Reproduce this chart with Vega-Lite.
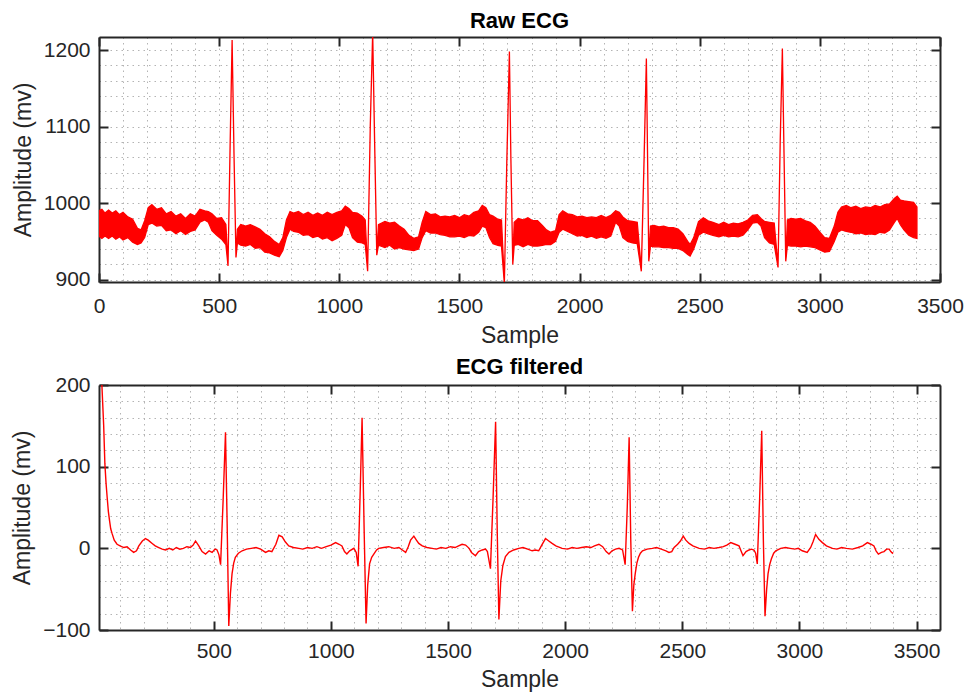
{
  "$schema": "https://vega.github.io/schema/vega-lite/v6.json",
  "background": "white",
  "padding": {"left": 11, "top": 10, "right": 5, "bottom": 5},
  "config": {
    "font": "Liberation Sans",
    "view": {"stroke": null},
    "axis": {
      "labelFont": "Liberation Sans",
      "titleFont": "Liberation Sans",
      "labelFontSize": 21,
      "titleFontSize": 23,
      "titleFontWeight": "normal",
      "labelColor": "#262626",
      "titleColor": "#262626",
      "domainColor": "#262626",
      "domainWidth": 2,
      "titlePadding": 8,
      "labelOverlap": false,
      "labelFlush": false,
      "labelBound": false,
      "gridColor": "#b4b4b4",
      "gridDash": [1.5, 4],
      "gridWidth": 1
    },
    "title": {"font": "Liberation Sans", "fontSize": 22, "fontWeight": "bold", "color": "#000000", "offset": 0}
  },
  "datasets": {
    "raw": [
      {"sample": 0, "lo": 957, "hi": 990}, {"sample": 12, "lo": 954, "hi": 992}, {"sample": 25, "lo": 957, "hi": 987}, {"sample": 40, "lo": 954, "hi": 991},
      {"sample": 55, "lo": 957, "hi": 987}, {"sample": 70, "lo": 953, "hi": 990}, {"sample": 85, "lo": 956, "hi": 985}, {"sample": 100, "lo": 952, "hi": 988},
      {"sample": 120, "lo": 955, "hi": 982}, {"sample": 140, "lo": 949, "hi": 979}, {"sample": 160, "lo": 946, "hi": 967},
      {"sample": 175, "lo": 948, "hi": 965}, {"sample": 190, "lo": 955, "hi": 977}, {"sample": 205, "lo": 972, "hi": 994},
      {"sample": 220, "lo": 974, "hi": 998}, {"sample": 240, "lo": 970, "hi": 992}, {"sample": 260, "lo": 971, "hi": 994},
      {"sample": 280, "lo": 964, "hi": 986}, {"sample": 300, "lo": 965, "hi": 989}, {"sample": 320, "lo": 960, "hi": 983},
      {"sample": 340, "lo": 964, "hi": 986}, {"sample": 360, "lo": 959, "hi": 980}, {"sample": 380, "lo": 963, "hi": 986},
      {"sample": 400, "lo": 965, "hi": 983}, {"sample": 420, "lo": 975, "hi": 992}, {"sample": 440, "lo": 978, "hi": 990},
      {"sample": 455, "lo": 975, "hi": 989}, {"sample": 470, "lo": 964, "hi": 986}, {"sample": 490, "lo": 958, "hi": 980},
      {"sample": 510, "lo": 953, "hi": 981}, {"sample": 528, "lo": 946, "hi": 972},
      {"sample": 537, "lo": 918, "hi": 920}, {"sample": 546, "lo": 1080, "hi": 1082}, {"sample": 554, "lo": 1212, "hi": 1213},
      {"sample": 562, "lo": 1060, "hi": 1062}, {"sample": 570, "lo": 929, "hi": 931}, {"sample": 576, "lo": 948, "hi": 966},
      {"sample": 590, "lo": 945, "hi": 972}, {"sample": 610, "lo": 944, "hi": 970}, {"sample": 630, "lo": 946, "hi": 972},
      {"sample": 650, "lo": 941, "hi": 969}, {"sample": 670, "lo": 942, "hi": 966}, {"sample": 690, "lo": 936, "hi": 960},
      {"sample": 710, "lo": 935, "hi": 956}, {"sample": 730, "lo": 932, "hi": 950}, {"sample": 750, "lo": 930, "hi": 946},
      {"sample": 765, "lo": 938, "hi": 955}, {"sample": 780, "lo": 955, "hi": 978}, {"sample": 795, "lo": 966, "hi": 989},
      {"sample": 810, "lo": 963, "hi": 987}, {"sample": 830, "lo": 962, "hi": 989}, {"sample": 850, "lo": 958, "hi": 985},
      {"sample": 870, "lo": 959, "hi": 988}, {"sample": 890, "lo": 955, "hi": 984}, {"sample": 910, "lo": 957, "hi": 987},
      {"sample": 930, "lo": 953, "hi": 984}, {"sample": 950, "lo": 955, "hi": 988}, {"sample": 970, "lo": 951, "hi": 985},
      {"sample": 990, "lo": 954, "hi": 988}, {"sample": 1010, "lo": 958, "hi": 990}, {"sample": 1025, "lo": 972, "hi": 996},
      {"sample": 1040, "lo": 968, "hi": 993}, {"sample": 1055, "lo": 955, "hi": 988}, {"sample": 1075, "lo": 949, "hi": 987},
      {"sample": 1095, "lo": 948, "hi": 983}, {"sample": 1108, "lo": 946, "hi": 978},
      {"sample": 1118, "lo": 911, "hi": 913}, {"sample": 1129, "lo": 1100, "hi": 1102}, {"sample": 1139, "lo": 1222, "hi": 1223},
      {"sample": 1147, "lo": 1080, "hi": 1082}, {"sample": 1156, "lo": 932, "hi": 934}, {"sample": 1163, "lo": 945, "hi": 972},
      {"sample": 1190, "lo": 942, "hi": 976}, {"sample": 1210, "lo": 945, "hi": 974}, {"sample": 1230, "lo": 940, "hi": 975},
      {"sample": 1250, "lo": 942, "hi": 970}, {"sample": 1270, "lo": 940, "hi": 966}, {"sample": 1290, "lo": 939, "hi": 958},
      {"sample": 1310, "lo": 938, "hi": 954}, {"sample": 1330, "lo": 940, "hi": 956}, {"sample": 1345, "lo": 955, "hi": 975},
      {"sample": 1360, "lo": 964, "hi": 989}, {"sample": 1380, "lo": 961, "hi": 985}, {"sample": 1400, "lo": 961, "hi": 986},
      {"sample": 1420, "lo": 959, "hi": 982}, {"sample": 1440, "lo": 958, "hi": 983}, {"sample": 1460, "lo": 956, "hi": 982},
      {"sample": 1480, "lo": 956, "hi": 984}, {"sample": 1500, "lo": 957, "hi": 981}, {"sample": 1520, "lo": 955, "hi": 985},
      {"sample": 1540, "lo": 958, "hi": 983}, {"sample": 1560, "lo": 957, "hi": 988}, {"sample": 1580, "lo": 962, "hi": 990},
      {"sample": 1595, "lo": 970, "hi": 997}, {"sample": 1610, "lo": 968, "hi": 994}, {"sample": 1625, "lo": 955, "hi": 985},
      {"sample": 1640, "lo": 947, "hi": 983}, {"sample": 1660, "lo": 945, "hi": 979}, {"sample": 1675, "lo": 944, "hi": 978},
      {"sample": 1687, "lo": 895, "hi": 897}, {"sample": 1697, "lo": 1050, "hi": 1052}, {"sample": 1708, "lo": 1197, "hi": 1198},
      {"sample": 1714, "lo": 1060, "hi": 1062}, {"sample": 1722, "lo": 920, "hi": 922}, {"sample": 1728, "lo": 945, "hi": 975},
      {"sample": 1745, "lo": 946, "hi": 980}, {"sample": 1765, "lo": 943, "hi": 978}, {"sample": 1785, "lo": 946, "hi": 981},
      {"sample": 1805, "lo": 944, "hi": 977}, {"sample": 1825, "lo": 944, "hi": 977}, {"sample": 1845, "lo": 945, "hi": 971},
      {"sample": 1862, "lo": 946, "hi": 965}, {"sample": 1880, "lo": 946, "hi": 962}, {"sample": 1900, "lo": 950, "hi": 964},
      {"sample": 1915, "lo": 962, "hi": 985}, {"sample": 1930, "lo": 966, "hi": 990}, {"sample": 1950, "lo": 963, "hi": 986},
      {"sample": 1970, "lo": 960, "hi": 985}, {"sample": 1990, "lo": 957, "hi": 982}, {"sample": 2010, "lo": 958, "hi": 983},
      {"sample": 2030, "lo": 955, "hi": 981}, {"sample": 2050, "lo": 957, "hi": 982}, {"sample": 2070, "lo": 954, "hi": 981},
      {"sample": 2090, "lo": 956, "hi": 984}, {"sample": 2110, "lo": 954, "hi": 981}, {"sample": 2130, "lo": 957, "hi": 984},
      {"sample": 2150, "lo": 975, "hi": 990}, {"sample": 2165, "lo": 970, "hi": 988}, {"sample": 2180, "lo": 955, "hi": 982},
      {"sample": 2200, "lo": 950, "hi": 977}, {"sample": 2220, "lo": 948, "hi": 976}, {"sample": 2240, "lo": 947, "hi": 975},
      {"sample": 2257, "lo": 911, "hi": 913}, {"sample": 2268, "lo": 1050, "hi": 1052}, {"sample": 2278, "lo": 1188, "hi": 1189},
      {"sample": 2283, "lo": 1060, "hi": 1062}, {"sample": 2288, "lo": 924, "hi": 926}, {"sample": 2295, "lo": 944, "hi": 970},
      {"sample": 2310, "lo": 943, "hi": 971}, {"sample": 2330, "lo": 943, "hi": 969}, {"sample": 2350, "lo": 942, "hi": 970},
      {"sample": 2370, "lo": 942, "hi": 968}, {"sample": 2390, "lo": 941, "hi": 968}, {"sample": 2410, "lo": 941, "hi": 966},
      {"sample": 2430, "lo": 938, "hi": 960}, {"sample": 2450, "lo": 933, "hi": 950}, {"sample": 2460, "lo": 931, "hi": 946},
      {"sample": 2475, "lo": 940, "hi": 955}, {"sample": 2495, "lo": 958, "hi": 976}, {"sample": 2515, "lo": 962, "hi": 981},
      {"sample": 2535, "lo": 960, "hi": 977}, {"sample": 2555, "lo": 958, "hi": 975}, {"sample": 2580, "lo": 956, "hi": 972},
      {"sample": 2600, "lo": 958, "hi": 975}, {"sample": 2620, "lo": 956, "hi": 972}, {"sample": 2640, "lo": 957, "hi": 974},
      {"sample": 2660, "lo": 956, "hi": 973}, {"sample": 2680, "lo": 958, "hi": 975}, {"sample": 2700, "lo": 965, "hi": 978},
      {"sample": 2720, "lo": 974, "hi": 984}, {"sample": 2740, "lo": 975, "hi": 985}, {"sample": 2755, "lo": 970, "hi": 980},
      {"sample": 2770, "lo": 955, "hi": 976}, {"sample": 2790, "lo": 948, "hi": 975}, {"sample": 2810, "lo": 946, "hi": 974},
      {"sample": 2826, "lo": 916, "hi": 918}, {"sample": 2835, "lo": 1080, "hi": 1082}, {"sample": 2844, "lo": 1201, "hi": 1202},
      {"sample": 2850, "lo": 1080, "hi": 1082}, {"sample": 2858, "lo": 924, "hi": 926}, {"sample": 2865, "lo": 945, "hi": 978},
      {"sample": 2880, "lo": 944, "hi": 980}, {"sample": 2900, "lo": 944, "hi": 979}, {"sample": 2920, "lo": 943, "hi": 980},
      {"sample": 2940, "lo": 944, "hi": 977}, {"sample": 2960, "lo": 943, "hi": 975}, {"sample": 2980, "lo": 942, "hi": 970},
      {"sample": 3000, "lo": 939, "hi": 962}, {"sample": 3020, "lo": 936, "hi": 955}, {"sample": 3040, "lo": 937, "hi": 954},
      {"sample": 3060, "lo": 950, "hi": 970}, {"sample": 3075, "lo": 962, "hi": 988}, {"sample": 3090, "lo": 965, "hi": 995},
      {"sample": 3110, "lo": 963, "hi": 997}, {"sample": 3130, "lo": 962, "hi": 994}, {"sample": 3150, "lo": 960, "hi": 996},
      {"sample": 3170, "lo": 961, "hi": 993}, {"sample": 3190, "lo": 959, "hi": 995}, {"sample": 3210, "lo": 960, "hi": 994},
      {"sample": 3230, "lo": 959, "hi": 997}, {"sample": 3250, "lo": 962, "hi": 995}, {"sample": 3270, "lo": 961, "hi": 998},
      {"sample": 3290, "lo": 965, "hi": 999}, {"sample": 3310, "lo": 975, "hi": 1006}, {"sample": 3322, "lo": 980, "hi": 1009},
      {"sample": 3335, "lo": 972, "hi": 1004}, {"sample": 3350, "lo": 965, "hi": 1003}, {"sample": 3370, "lo": 958, "hi": 1002},
      {"sample": 3390, "lo": 955, "hi": 1001}, {"sample": 3404, "lo": 954, "hi": 995}
    ],
    "filtered": [
      {"sample": 20, "value": 215}, {"sample": 30, "value": 150}, {"sample": 35, "value": 104}, {"sample": 40, "value": 80},
      {"sample": 45, "value": 62}, {"sample": 50, "value": 45}, {"sample": 55, "value": 34}, {"sample": 60, "value": 24},
      {"sample": 66, "value": 18}, {"sample": 75, "value": 10}, {"sample": 87, "value": 5}, {"sample": 100, "value": 3},
      {"sample": 116, "value": 1}, {"sample": 130, "value": 2}, {"sample": 145, "value": -2}, {"sample": 158, "value": -5},
      {"sample": 170, "value": -3}, {"sample": 180, "value": 3}, {"sample": 195, "value": 9}, {"sample": 208, "value": 12},
      {"sample": 220, "value": 10}, {"sample": 237, "value": 6}, {"sample": 250, "value": 3}, {"sample": 265, "value": 1},
      {"sample": 280, "value": -1}, {"sample": 294, "value": -2}, {"sample": 310, "value": 0}, {"sample": 325, "value": -2},
      {"sample": 340, "value": 1}, {"sample": 355, "value": -1}, {"sample": 370, "value": 0}, {"sample": 385, "value": 2},
      {"sample": 400, "value": 1}, {"sample": 412, "value": 4}, {"sample": 422, "value": 9}, {"sample": 436, "value": 3},
      {"sample": 450, "value": -4}, {"sample": 465, "value": -7}, {"sample": 480, "value": -3}, {"sample": 493, "value": -5},
      {"sample": 505, "value": -1}, {"sample": 514, "value": -2}, {"sample": 522, "value": -8}, {"sample": 529, "value": -20},
      {"sample": 540, "value": 60}, {"sample": 550, "value": 142}, {"sample": 557, "value": 30}, {"sample": 564, "value": -95},
      {"sample": 571, "value": -55}, {"sample": 578, "value": -31}, {"sample": 585, "value": -18}, {"sample": 592, "value": -11},
      {"sample": 605, "value": -6}, {"sample": 621, "value": -3}, {"sample": 640, "value": -1}, {"sample": 660, "value": 0},
      {"sample": 680, "value": 1}, {"sample": 700, "value": -1}, {"sample": 721, "value": -5}, {"sample": 735, "value": -3},
      {"sample": 748, "value": -4}, {"sample": 765, "value": 5}, {"sample": 778, "value": 16}, {"sample": 792, "value": 14},
      {"sample": 805, "value": 8}, {"sample": 820, "value": 3}, {"sample": 840, "value": 1}, {"sample": 863, "value": 0},
      {"sample": 880, "value": -1}, {"sample": 900, "value": 1}, {"sample": 920, "value": 0}, {"sample": 940, "value": 2},
      {"sample": 960, "value": 0}, {"sample": 980, "value": 2}, {"sample": 1000, "value": 4}, {"sample": 1020, "value": 7},
      {"sample": 1035, "value": 5}, {"sample": 1047, "value": 3}, {"sample": 1058, "value": -4}, {"sample": 1068, "value": -7},
      {"sample": 1080, "value": -3}, {"sample": 1098, "value": 0}, {"sample": 1108, "value": -5}, {"sample": 1116, "value": -22},
      {"sample": 1125, "value": 70}, {"sample": 1133, "value": 160}, {"sample": 1142, "value": 20}, {"sample": 1150, "value": -92},
      {"sample": 1157, "value": -45}, {"sample": 1165, "value": -19}, {"sample": 1174, "value": -11}, {"sample": 1183, "value": -7},
      {"sample": 1195, "value": -2}, {"sample": 1204, "value": 0}, {"sample": 1225, "value": 1}, {"sample": 1247, "value": 2},
      {"sample": 1270, "value": 0}, {"sample": 1290, "value": 1}, {"sample": 1305, "value": -2}, {"sample": 1319, "value": -5},
      {"sample": 1330, "value": 2}, {"sample": 1340, "value": 10}, {"sample": 1354, "value": 15}, {"sample": 1365, "value": 10},
      {"sample": 1375, "value": 6}, {"sample": 1390, "value": 3}, {"sample": 1410, "value": 1}, {"sample": 1432, "value": 0},
      {"sample": 1450, "value": -1}, {"sample": 1470, "value": 1}, {"sample": 1490, "value": 0}, {"sample": 1510, "value": 2},
      {"sample": 1530, "value": 1}, {"sample": 1545, "value": 3}, {"sample": 1560, "value": 5}, {"sample": 1575, "value": 4},
      {"sample": 1590, "value": 0}, {"sample": 1600, "value": -5}, {"sample": 1617, "value": -9}, {"sample": 1630, "value": -4},
      {"sample": 1646, "value": -2}, {"sample": 1660, "value": -1}, {"sample": 1668, "value": -4}, {"sample": 1681, "value": -25},
      {"sample": 1692, "value": 60}, {"sample": 1703, "value": 155}, {"sample": 1710, "value": 20}, {"sample": 1717, "value": -87},
      {"sample": 1725, "value": -40}, {"sample": 1734, "value": -21}, {"sample": 1745, "value": -10}, {"sample": 1760, "value": -5},
      {"sample": 1780, "value": -2}, {"sample": 1802, "value": 0}, {"sample": 1820, "value": 1}, {"sample": 1840, "value": -1},
      {"sample": 1859, "value": -3}, {"sample": 1872, "value": -2}, {"sample": 1887, "value": -3}, {"sample": 1900, "value": 4},
      {"sample": 1916, "value": 12}, {"sample": 1930, "value": 9}, {"sample": 1944, "value": 6}, {"sample": 1960, "value": 3},
      {"sample": 1987, "value": 0}, {"sample": 2010, "value": -1}, {"sample": 2030, "value": 1}, {"sample": 2050, "value": 0},
      {"sample": 2070, "value": 1}, {"sample": 2090, "value": 2}, {"sample": 2110, "value": 1}, {"sample": 2125, "value": 3},
      {"sample": 2144, "value": 5}, {"sample": 2160, "value": 2}, {"sample": 2175, "value": -4}, {"sample": 2187, "value": -7},
      {"sample": 2200, "value": -3}, {"sample": 2215, "value": -1}, {"sample": 2230, "value": 0}, {"sample": 2245, "value": -2},
      {"sample": 2256, "value": -20}, {"sample": 2265, "value": 50}, {"sample": 2273, "value": 136}, {"sample": 2280, "value": 10},
      {"sample": 2287, "value": -77}, {"sample": 2293, "value": -45}, {"sample": 2299, "value": -31}, {"sample": 2306, "value": -18},
      {"sample": 2313, "value": -11}, {"sample": 2321, "value": -6}, {"sample": 2330, "value": -3}, {"sample": 2350, "value": -1},
      {"sample": 2372, "value": 0}, {"sample": 2390, "value": 1}, {"sample": 2410, "value": -1}, {"sample": 2430, "value": -3},
      {"sample": 2443, "value": -5}, {"sample": 2455, "value": -4}, {"sample": 2465, "value": 1}, {"sample": 2480, "value": 5},
      {"sample": 2492, "value": 9}, {"sample": 2504, "value": 15}, {"sample": 2515, "value": 10}, {"sample": 2529, "value": 6},
      {"sample": 2545, "value": 3}, {"sample": 2572, "value": 0}, {"sample": 2595, "value": -1}, {"sample": 2615, "value": 1},
      {"sample": 2635, "value": 0}, {"sample": 2657, "value": 1}, {"sample": 2675, "value": 2}, {"sample": 2690, "value": 4},
      {"sample": 2707, "value": 7}, {"sample": 2725, "value": 5}, {"sample": 2742, "value": 3}, {"sample": 2759, "value": -9},
      {"sample": 2772, "value": -4}, {"sample": 2785, "value": -2}, {"sample": 2795, "value": -1}, {"sample": 2806, "value": -2},
      {"sample": 2813, "value": -6}, {"sample": 2820, "value": -19}, {"sample": 2830, "value": 60}, {"sample": 2839, "value": 144},
      {"sample": 2846, "value": 10}, {"sample": 2853, "value": -83}, {"sample": 2860, "value": -50}, {"sample": 2866, "value": -31},
      {"sample": 2873, "value": -20}, {"sample": 2880, "value": -13}, {"sample": 2890, "value": -6}, {"sample": 2899, "value": -3},
      {"sample": 2920, "value": 0}, {"sample": 2941, "value": 1}, {"sample": 2960, "value": 0}, {"sample": 2980, "value": -1},
      {"sample": 2995, "value": 0}, {"sample": 3012, "value": -3}, {"sample": 3033, "value": -5}, {"sample": 3048, "value": 1},
      {"sample": 3058, "value": 8}, {"sample": 3069, "value": 17}, {"sample": 3083, "value": 11}, {"sample": 3098, "value": 7},
      {"sample": 3115, "value": 3}, {"sample": 3141, "value": 0}, {"sample": 3160, "value": -1}, {"sample": 3180, "value": 1},
      {"sample": 3200, "value": 0}, {"sample": 3226, "value": -1}, {"sample": 3250, "value": 1}, {"sample": 3270, "value": 3},
      {"sample": 3290, "value": 7}, {"sample": 3305, "value": 5}, {"sample": 3318, "value": 3}, {"sample": 3327, "value": -3},
      {"sample": 3337, "value": -7}, {"sample": 3350, "value": -5}, {"sample": 3361, "value": -4}, {"sample": 3372, "value": -1},
      {"sample": 3383, "value": -1}, {"sample": 3390, "value": -4}, {"sample": 3397, "value": -6}, {"sample": 3400, "value": -5}
    ]
  },
  "vconcat": [
    {
      "title": {"text": "Raw ECG", "dy": 5},
      "width": 841,
      "height": 245,
      "data": {"name": "raw"},
      "layer": [
        {
          "mark": {"type": "area", "fill": "#ff0000", "stroke": "#ff0000", "strokeWidth": 1.3, "opacity": 1, "clip": true},
          "encoding": {
            "x": {"field": "sample", "type": "quantitative",
              "scale": {"domain": [0, 3500], "nice": false, "zero": false},
              "axis": {"orient": "bottom", "title": "Sample", "grid": true, "ticks": false, "labelPadding": 13,
                "values": [0,100,200,300,400,500,600,700,800,900,1000,1100,1200,1300,1400,1500,1600,1700,1800,1900,2000,2100,2200,2300,2400,2500,2600,2700,2800,2900,3000,3100,3200,3300,3400,3500],
                "labelExpr": "datum.value % 500 === 0 ? datum.label : ''", "format": "d"}},
            "y": {"field": "lo", "type": "quantitative",
              "scale": {"domain": [897, 1217], "nice": false, "zero": false},
              "axis": {"orient": "left", "title": "Amplitude (mv)", "grid": true, "ticks": false, "labelPadding": 9,
                "values": [900,920,940,960,980,1000,1020,1040,1060,1080,1100,1120,1140,1160,1180,1200],
                "labelExpr": "datum.value % 100 === 0 ? datum.label : ''", "format": "d"}},
            "y2": {"field": "hi"}
          }
        },
        {
          "mark": {"type": "line", "opacity": 0},
          "encoding": {
            "x": {"field": "sample", "type": "quantitative",
              "axis": {"orient": "top", "offset": -245, "title": null, "labels": false, "grid": false, "domain": false,
                "ticks": true, "tickSize": 9, "tickWidth": 2, "tickColor": "#262626", "tickOpacity": 1,
                "values": [0,500,1000,1500,2000,2500,3000,3500]}},
            "y": {"field": "hi", "type": "quantitative",
              "axis": {"orient": "right", "offset": -841, "title": null, "labels": false, "grid": false, "domain": false,
                "ticks": true, "tickSize": 9, "tickWidth": 2, "tickColor": "#262626", "tickOpacity": 1,
                "values": [900,1000,1100,1200]}}
          }
        },
        {
          "mark": {"type": "line", "opacity": 0},
          "encoding": {
            "x": {"field": "sample", "type": "quantitative",
              "axis": {"orient": "bottom", "offset": -245, "title": null, "labels": false, "grid": false,
                "ticks": true, "tickSize": 9, "tickWidth": 2, "tickColor": "#262626", "tickOpacity": 1,
                "values": [0,500,1000,1500,2000,2500,3000,3500]}},
            "y": {"field": "hi", "type": "quantitative",
              "axis": {"orient": "left", "offset": -841, "title": null, "labels": false, "grid": false,
                "ticks": true, "tickSize": 9, "tickWidth": 2, "tickColor": "#262626", "tickOpacity": 1,
                "values": [900,1000,1100,1200]}}
          }
        }
      ],
      "resolve": {"axis": {"x": "independent", "y": "independent"}}
    },
    {
      "title": {"text": "ECG filtered", "dy": 10},
      "width": 841,
      "height": 245,
      "data": {"name": "filtered"},
      "layer": [
        {
          "mark": {"type": "line", "stroke": "#ff0000", "strokeWidth": 1.4, "clip": true},
          "encoding": {
            "x": {"field": "sample", "type": "quantitative",
              "scale": {"domain": [10, 3600], "nice": false, "zero": false},
              "axis": {"orient": "bottom", "title": "Sample", "grid": true, "ticks": false, "labelPadding": 10, "titlePadding": 7,
                "values": [100,200,300,400,500,600,700,800,900,1000,1100,1200,1300,1400,1500,1600,1700,1800,1900,2000,2100,2200,2300,2400,2500,2600,2700,2800,2900,3000,3100,3200,3300,3400,3500,3600],
                "labelExpr": "datum.value % 500 === 0 ? datum.label : ''", "format": "d"}},
            "y": {"field": "value", "type": "quantitative",
              "scale": {"domain": [-100, 200], "nice": false, "zero": false},
              "axis": {"orient": "left", "title": "Amplitude (mv)", "grid": true, "ticks": false, "labelPadding": 9,
                "values": [-100,-80,-60,-40,-20,0,20,40,60,80,100,120,140,160,180,200],
                "labelExpr": "datum.value % 100 === 0 ? datum.label : ''", "format": "d"}}
          }
        },
        {
          "mark": {"type": "line", "opacity": 0},
          "encoding": {
            "x": {"field": "sample", "type": "quantitative",
              "axis": {"orient": "top", "offset": -245, "title": null, "labels": false, "grid": false, "domain": false,
                "ticks": true, "tickSize": 9, "tickWidth": 2, "tickColor": "#262626", "tickOpacity": 1,
                "values": [500,1000,1500,2000,2500,3000,3500]}},
            "y": {"field": "value", "type": "quantitative",
              "axis": {"orient": "right", "offset": -841, "title": null, "labels": false, "grid": false, "domain": false,
                "ticks": true, "tickSize": 9, "tickWidth": 2, "tickColor": "#262626", "tickOpacity": 1,
                "values": [-100,0,100,200]}}
          }
        },
        {
          "mark": {"type": "line", "opacity": 0},
          "encoding": {
            "x": {"field": "sample", "type": "quantitative",
              "axis": {"orient": "bottom", "offset": -245, "title": null, "labels": false, "grid": false,
                "ticks": true, "tickSize": 9, "tickWidth": 2, "tickColor": "#262626", "tickOpacity": 1,
                "values": [500,1000,1500,2000,2500,3000,3500]}},
            "y": {"field": "value", "type": "quantitative",
              "axis": {"orient": "left", "offset": -841, "title": null, "labels": false, "grid": false,
                "ticks": true, "tickSize": 9, "tickWidth": 2, "tickColor": "#262626", "tickOpacity": 1,
                "values": [-100,0,100,200]}}
          }
        }
      ],
      "resolve": {"axis": {"x": "independent", "y": "independent"}}
    }
  ],
  "spacing": 8
}
